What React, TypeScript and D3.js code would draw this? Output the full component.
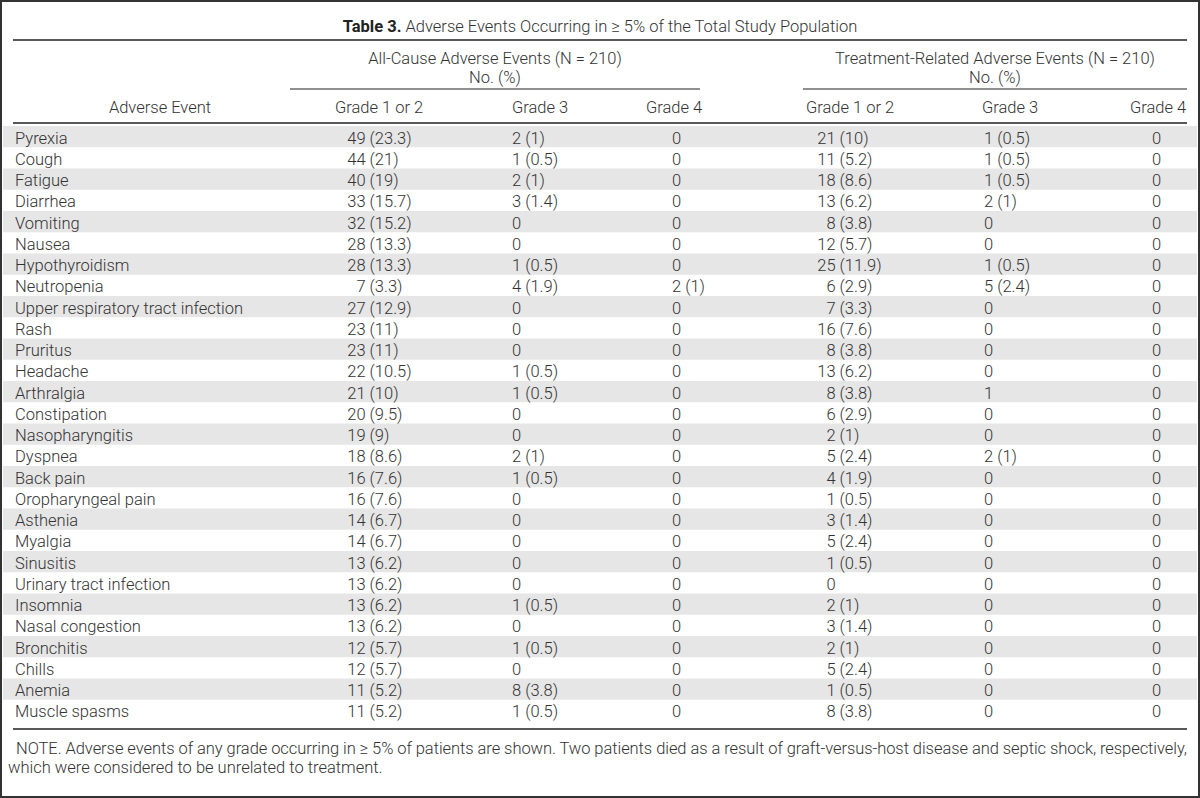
import React from "react";
import * as d3 from "d3";

const events = [
  "Pyrexia", "Cough", "Fatigue", "Diarrhea", "Vomiting", "Nausea", "Hypothyroidism", "Neutropenia",
  "Upper respiratory tract infection", "Rash", "Pruritus", "Headache", "Arthralgia", "Constipation",
  "Nasopharyngitis", "Dyspnea", "Back pain", "Oropharyngeal pain", "Asthenia", "Myalgia", "Sinusitis",
  "Urinary tract infection", "Insomnia", "Nasal congestion", "Bronchitis", "Chills", "Anemia", "Muscle spasms",
];
const allG12 = ["49 (23.3)", "44 (21)", "40 (19)", "33 (15.7)", "32 (15.2)", "28 (13.3)", "28 (13.3)", "7 (3.3)",
  "27 (12.9)", "23 (11)", "23 (11)", "22 (10.5)", "21 (10)", "20 (9.5)", "19 (9)", "18 (8.6)", "16 (7.6)",
  "16 (7.6)", "14 (6.7)", "14 (6.7)", "13 (6.2)", "13 (6.2)", "13 (6.2)", "13 (6.2)", "12 (5.7)", "12 (5.7)",
  "11 (5.2)", "11 (5.2)"];
const allG3 = ["2 (1)", "1 (0.5)", "2 (1)", "3 (1.4)", "0", "0", "1 (0.5)", "4 (1.9)", "0", "0", "0", "1 (0.5)",
  "1 (0.5)", "0", "0", "2 (1)", "1 (0.5)", "0", "0", "0", "0", "0", "1 (0.5)", "0", "1 (0.5)", "0", "8 (3.8)", "1 (0.5)"];
const allG4 = ["0", "0", "0", "0", "0", "0", "0", "2 (1)", "0", "0", "0", "0", "0", "0", "0", "0", "0", "0", "0",
  "0", "0", "0", "0", "0", "0", "0", "0", "0"];
const trG12 = ["21 (10)", "11 (5.2)", "18 (8.6)", "13 (6.2)", "8 (3.8)", "12 (5.7)", "25 (11.9)", "6 (2.9)",
  "7 (3.3)", "16 (7.6)", "8 (3.8)", "13 (6.2)", "8 (3.8)", "6 (2.9)", "2 (1)", "5 (2.4)", "4 (1.9)", "1 (0.5)",
  "3 (1.4)", "5 (2.4)", "1 (0.5)", "0", "2 (1)", "3 (1.4)", "2 (1)", "5 (2.4)", "1 (0.5)", "8 (3.8)"];
const trG3 = ["1 (0.5)", "1 (0.5)", "1 (0.5)", "2 (1)", "0", "0", "1 (0.5)", "5 (2.4)", "0", "0", "0", "0", "1",
  "0", "0", "2 (1)", "0", "0", "0", "0", "0", "0", "0", "0", "0", "0", "0", "0"];
const trG4 = ["0", "0", "0", "0", "0", "0", "0", "0", "0", "0", "0", "0", "0", "0", "0", "0", "0", "0", "0", "0",
  "0", "0", "0", "0", "0", "0", "0", "0"];

const groupHeaders = ["All-Cause Adverse Events (N = 210)", "Treatment-Related Adverse Events (N = 210)"];
const subHeader = "No. (%)";
const colHeaders = ["Grade 1 or 2", "Grade 3", "Grade 4", "Grade 1 or 2", "Grade 3", "Grade 4"];
const titleBold = "Table 3.";
const titleRest = " Adverse Events Occurring in \u2265 5% of the Total Study Population";
const noteLine1 = "NOTE. Adverse events of any grade occurring in \u2265 5% of patients are shown. Two patients died as a result of graft-versus-host disease and septic shock, respectively,";
const noteLine2 = "which were considered to be unrelated to treatment.";

const W = 1200;
const H = 798;
const FONT = "Roboto, 'Liberation Sans', sans-serif";
const TXT = "#333";

export default function App() {
  const left = 13;
  const right = 1187;
  const y = d3.scaleBand<string>().domain(events).range([126, 721]).paddingInner(0);
  const columns = [allG12, allG3, allG4, trG12, trG3, trG4];
  const colX = d3.scaleOrdinal<number, number>().domain([0, 1, 2, 3, 4, 5]).range([347, 512, 672, 817, 984, 1152]);
  const fs = 16.5;
  const digitW = fs * 0.5625;
  const headerCenters = [379, 540, 674, 850, 1010, 1158];
  const groups = [
    { x0: 290, x1: 700 },
    { x0: 803, x1: 1187 },
  ];

  const renderValue = (v: string, ci: number, yy: number) => {
    const x = colX(ci);
    if (ci === 0 || ci === 3) {
      const m = v.match(/^(\d+)(.*)$/);
      const count = m ? m[1] : v;
      const rest = m ? m[2] : "";
      const xe = x + 2 * digitW;
      return (
        <g key={ci}>
          <text x={xe} y={yy} textAnchor="end">{count}</text>
          <text x={xe} y={yy} textAnchor="start" style={{ whiteSpace: "pre" }}>{rest}</text>
        </g>
      );
    }
    return <text key={ci} x={x} y={yy}>{v}</text>;
  };

  return (
    <svg width={W} height={H} style={{ position: "absolute", left: 0, top: 0, background: "#fff" }}
      fontFamily={FONT} fontWeight={300} fontSize={fs} fill={TXT}>
      <rect x={0} y={0} width={W} height={H} fill="#fff" />
      {events.map((e, i) =>
        i % 2 === 0 ? (
          <rect key={e} x={3} y={y(e)!} width={W - 6} height={y.bandwidth()} fill="#e6e6e6" />
        ) : null
      )}
      <text x={W / 2} y={32} textAnchor="middle" fontSize={16.5}>
        <tspan fontWeight={700} fill="#222">{titleBold}</tspan>
        <tspan>{titleRest}</tspan>
      </text>
      <line x1={left} x2={right} y1={40} y2={40} stroke="#222" strokeWidth={1.6} />
      {groups.map((g, gi) => (
        <g key={gi}>
          <text x={(g.x0 + g.x1) / 2} y={64} textAnchor="middle">{groupHeaders[gi]}</text>
          <text x={(g.x0 + g.x1) / 2} y={83} textAnchor="middle">{subHeader}</text>
          <line x1={g.x0} x2={g.x1} y1={89} y2={89} stroke="#222" strokeWidth={1.2} />
        </g>
      ))}
      <text x={160} y={113} textAnchor="middle">Adverse Event</text>
      {colHeaders.map((h, i) => (
        <text key={i} x={headerCenters[i]} y={113} textAnchor="middle">{h}</text>
      ))}
      <line x1={left} x2={right} y1={123} y2={123} stroke="#222" strokeWidth={1.6} />
      {events.map((e, i) => {
        const yy = y(e)! + y.bandwidth() / 2 + 7;
        return (
          <g key={e}>
            <text x={15} y={yy}>{e}</text>
            {columns.map((col, ci) => renderValue(col[i], ci, yy))}
          </g>
        );
      })}
      <line x1={left} x2={right} y1={729} y2={729} stroke="#222" strokeWidth={1.6} />
      <text x={16} y={754} textLength={1171} lengthAdjust="spacing">{noteLine1}</text>
      <text x={8} y={773}>{noteLine2}</text>
      <rect x={1} y={1} width={W - 2} height={H - 2} fill="none" stroke="#333" strokeWidth={2} />
    </svg>
  );
}
